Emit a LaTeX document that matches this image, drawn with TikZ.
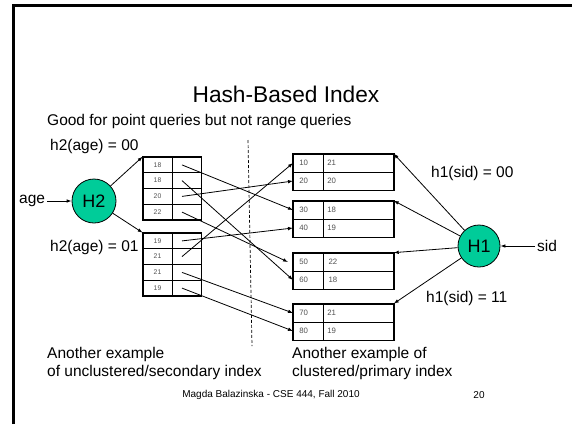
\documentclass[tikz,border=0pt]{standalone}
\usepackage{fontspec}
\setmainfont{Liberation Sans}
\usetikzlibrary{arrows.meta}
\definecolor{hashteal}{RGB}{0,204,153}
\definecolor{celltext}{RGB}{80,80,80}

\begin{document}
\begin{tikzpicture}[x=1pt,y=-1pt,
  lbl/.style={font=\fontsize{15.5}{18}\selectfont, inner sep=0pt},
  hashfn/.style={circle, draw=black, line width=0.8pt, fill=hashteal, inner sep=0pt,
                 font=\fontsize{18}{20}\selectfont},
  arr/.style={line width=0.8pt, -{Latex[length=5pt,width=3.6pt]}},
  lcell/.style={draw=black, line width=0.7pt, inner sep=0pt, minimum width=29pt,
                minimum height=15.75pt, text=celltext, font=\fontsize{6.8}{7}\selectfont},
  rkey/.style={draw=black, line width=0.7pt, anchor=west, inner sep=0pt, inner xsep=6pt,
               text width=17.5pt, align=left, minimum height=18pt, text=celltext,
               font=\fontsize{7.8}{8}\selectfont},
  rval/.style={draw=black, line width=0.7pt, anchor=west, inner sep=0pt, inner xsep=4.5pt,
               text width=61.5pt, align=left, minimum height=18pt, text=celltext,
               font=\fontsize{7.8}{8}\selectfont},
  outline/.style={line width=1.7pt},
]
\useasboundingbox (0,0) rectangle (572,424);

% slide frame
\draw[line width=2.5pt] (13.5,424) -- (13.5,5.5) -- (572,5.5);

% title and heading
\node[font=\fontsize{22.7}{27}\selectfont, inner sep=0pt] (title) at (286,94) {Hash-Based Index};
\node[lbl, anchor=west] (note) at (47,121) {Good for point queries but not range queries};

% divider between the two examples
\coordinate (divtop) at (248,140);
\coordinate (divbot) at (252,346);
\draw[line width=0.7pt, dash pattern=on 3pt off 2pt] (divtop) -- (divbot);

% ---------- secondary index on age ----------
\node[lbl, anchor=west, inner sep=2pt] (age) at (17,201) {age};
\node[hashfn, minimum size=44pt] (H2) at (94,201) {H2};
\node[lbl, anchor=west] (h2a) at (50,146) {h2(age) = 00};
\node[lbl, anchor=west] (h2b) at (50,247) {h2(age) = 01};

% bucket 00
\node[lcell] (a1) at (157.5,164.9) {18};  \node[lcell] (pa1) at (186.5,164.9) {};
\node[lcell] (a2) at (157.5,180.6) {18};  \node[lcell] (pa2) at (186.5,180.6) {};
\node[lcell] (a3) at (157.5,196.4) {20};  \node[lcell] (pa3) at (186.5,196.4) {};
\node[lcell] (a4) at (157.5,212.1) {22};  \node[lcell] (pa4) at (186.5,212.1) {};
\draw[outline] (a1.north west) rectangle (pa4.south east);

% bucket 01
\node[lcell] (b1) at (157.5,240.9) {19};  \node[lcell] (pb1) at (186.5,240.9) {};
\node[lcell] (b2) at (157.5,256.6) {21};  \node[lcell] (pb2) at (186.5,256.6) {};
\node[lcell] (b3) at (157.5,272.4) {21};  \node[lcell] (pb3) at (186.5,272.4) {};
\node[lcell] (b4) at (157.5,288.1) {19};  \node[lcell] (pb4) at (186.5,288.1) {};
\draw[outline] (b1.north west) rectangle (pb4.south east);

\draw[arr] (age) -- (H2);
\draw[arr] (H2) -- (a1.north west);
\draw[arr] (H2) -- (b1.north west);

% ---------- primary index on sid ----------
\node[rkey] (k10) at (293,163) {10}; \node[rval] (v10) at (322.5,163) {21};
\node[rkey] (k20) at (293,181) {20}; \node[rval] (v20) at (322.5,181) {20};
\draw[outline] (k10.north west) rectangle (v20.south east);

\node[rkey] (k30) at (293,210) {30}; \node[rval] (v30) at (322.5,210) {18};
\node[rkey] (k40) at (293,228) {40}; \node[rval] (v40) at (322.5,228) {19};
\draw[outline] (k30.north west) rectangle (v40.south east);

\node[rkey] (k50) at (293,262) {50}; \node[rval] (v50) at (322.5,262) {\,22};
\node[rkey] (k60) at (293,280) {60}; \node[rval] (v60) at (322.5,280) {\,18};
\draw[outline] (k50.north west) rectangle (v60.south east);

\node[rkey] (k70) at (293,313) {70}; \node[rval] (v70) at (322.5,313) {21};
\node[rkey] (k80) at (293,331) {80}; \node[rval] (v80) at (322.5,331) {19};
\draw[outline] (k70.north west) rectangle (v80.south east);

\node[hashfn, minimum size=42pt] (H1) at (479,246) {H1};
\node[lbl, anchor=west, inner sep=2pt] (sid) at (535,246) {sid};
\node[lbl, anchor=west] (h1a) at (431,173) {h1(sid) = 00};
\node[lbl, anchor=west] (h1b) at (426,298) {h1(sid) = 11};

\draw[arr] (sid) -- (H1);
\draw[arr] (H1) -- (v10.north east);
\draw[arr] (H1) -- (v30.north east);
\draw[arr] (H1) -- (v50.north east);
\draw[arr] (H1) -- (v70.north east);

% record pointers from the secondary index
\draw[arr] ([xshift=-4.5pt]pa1.center) -- (k30.west);
\draw[arr] ([xshift=-4.5pt]pa2.center) -- (k60.west);
\draw[arr] ([xshift=-4.5pt]pa3.center) -- (k20.west);
\draw[arr] ([xshift=-4.5pt]pa4.center) -- ([xshift=-5pt]k50.west);
\draw[arr] ([xshift=-4.5pt]pb1.center) -- (k40.west);
\draw[arr] ([xshift=-4.5pt]pb2.center) -- (k10.west);
\draw[arr] ([xshift=-4.5pt]pb3.center) -- (k70.west);
\draw[arr] ([xshift=-4.5pt]pb4.center) -- (k80.west);

% captions
\node[lbl, anchor=base west] (cap1a) at (47,358) {Another example};
\node[lbl, anchor=base west] (cap1b) at (47,376) {of unclustered/secondary index};
\node[lbl, anchor=base west] (cap2a) at (292,358) {Another example of};
\node[lbl, anchor=base west] (cap2b) at (292,376) {clustered/primary index};

% footer
\node[font=\fontsize{10}{12}\selectfont, inner sep=0pt] (footer) at (271,395) {Magda Balazinska - CSE 444, Fall 2010};
\node[font=\fontsize{10}{12}\selectfont, inner sep=0pt] (page) at (479,395) {20};
\end{tikzpicture}
\end{document}
